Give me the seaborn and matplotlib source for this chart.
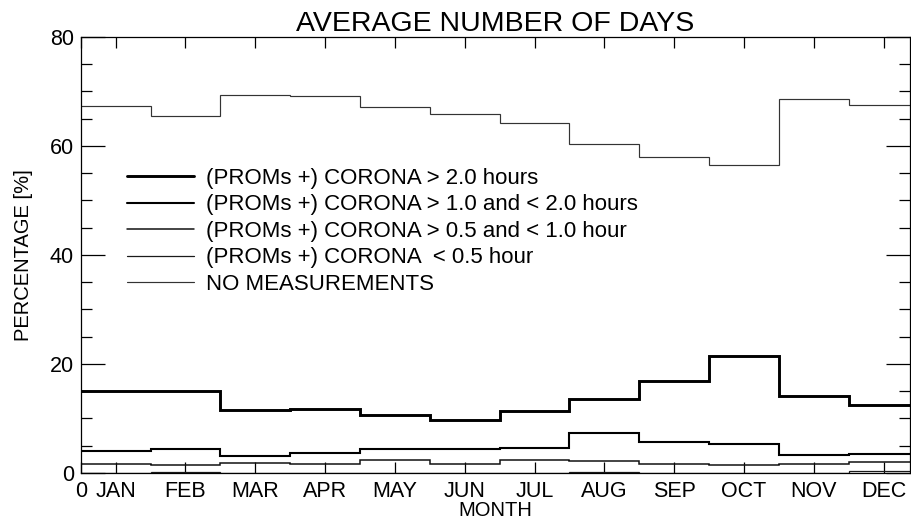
import numpy as np
import pandas as pd
import matplotlib
matplotlib.use('Agg')
import matplotlib.pyplot as plt
import seaborn as sns
from matplotlib.ticker import MultipleLocator

# ── data (% of days per month) ─────────────────────────────────
months = ['JAN', 'FEB', 'MAR', 'APR', 'MAY', 'JUN',
          'JUL', 'AUG', 'SEP', 'OCT', 'NOV', 'DEC']

corona_gt2 = [15.1, 15.0, 11.6, 11.7, 10.7, 9.8, 11.3, 13.6, 16.9, 21.4, 14.1, 12.4]
corona_1to2 = [4.0, 4.4, 3.2, 3.6, 4.4, 4.4, 4.5, 7.3, 5.7, 5.3, 3.3, 3.5]
corona_05to1 = [1.7, 1.4, 1.8, 1.7, 2.4, 1.6, 2.4, 2.2, 1.7, 1.5, 1.65, 2.0]
corona_lt05 = [0.05, 0.2, 0.05, 0.05, 0.05, 0.05, 0.05, 0.2, 0.05, 0.05, 0.05, 0.3]
no_meas = [67.3, 65.5, 69.4, 69.1, 67.1, 65.9, 64.3, 60.4, 57.9, 56.6, 68.7, 67.6]

labels = ['(PROMs +) CORONA > 2.0 hours',
          '(PROMs +) CORONA > 1.0 and < 2.0 hours',
          '(PROMs +) CORONA > 0.5 and < 1.0 hour',
          '(PROMs +) CORONA  < 0.5 hour',
          'NO MEASUREMENTS']
series = [corona_gt2, corona_1to2, corona_05to1, corona_lt05, no_meas]
widths = [2.1, 1.5, 1.1, 0.9, 0.85]
colors = ['black', 'black', '#111111', '#1a1a1a', '#333333']

# ── style ─────────────────────────────────────────────────────
sns.set_style('ticks', {'axes.edgecolor': 'black', 'text.color': 'black',
                        'axes.labelcolor': 'black', 'xtick.color': 'black',
                        'ytick.color': 'black'})
plt.rcParams['font.family'] = ['Liberation Sans', 'DejaVu Sans']

fig = plt.figure(figsize=(9.12, 5.23), dpi=100)
ax = fig.add_axes([0.0885, 0.0956, 0.9095, 0.8337])

# step curves: one bin per month, last value repeated to close the final bin
edges = np.arange(len(months) + 1)
for vals, lab, lw, col in zip(series, labels, widths, colors):
    df = pd.DataFrame({'month': edges, 'pct': list(vals) + [vals[-1]]})
    sns.lineplot(data=df, x='month', y='pct', ax=ax, color=col, linewidth=lw,
                 drawstyle='steps-post', label=lab, solid_joinstyle='miter')

ax.set_xlim(0, 11.88)
ax.set_ylim(0, 80)

ax.set_xticks([0] + [i + 0.5 for i in range(len(months))])
ax.set_xticklabels(['0'] + months)
ax.tick_params(axis='x', which='major', direction='in', length=8, width=0.9,
               top=True, bottom=True, labelsize=15.5, pad=6)
ax.yaxis.set_major_locator(MultipleLocator(20))
ax.yaxis.set_minor_locator(MultipleLocator(5))
ax.tick_params(axis='y', which='major', direction='in', length=17, width=0.9,
               left=True, right=True, labelsize=15.5, pad=5)
ax.tick_params(axis='y', which='minor', direction='in', length=8, width=0.9,
               left=True, right=True)
for s in ax.spines.values():
    s.set_linewidth(0.9)
    s.set_visible(True)
    s.set_zorder(5)

ax.set_xlabel('MONTH', fontsize=14.5, labelpad=-1)
ax.set_ylabel('PERCENTAGE [%]', fontsize=14.5, labelpad=12)
ax.set_title('AVERAGE NUMBER OF DAYS', fontsize=20.5, pad=4)

ax.legend(loc='upper left', bbox_to_anchor=(0.056, 0.70), frameon=False,
          fontsize=16, handlelength=3.0, handletextpad=0.55,
          labelspacing=0.25, borderpad=0, borderaxespad=0)

fig.savefig('out.png', dpi=100)
